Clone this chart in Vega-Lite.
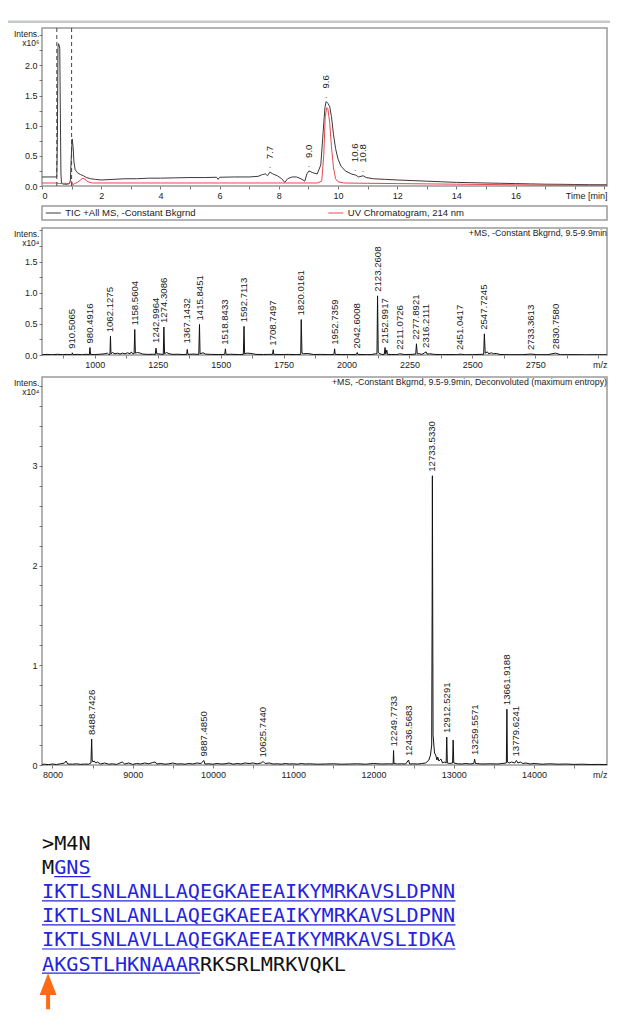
{
  "$schema": "https://vega.github.io/schema/vega-lite/v6.json",
  "usermeta": {"embedOptions": {"actions": false}},
  "padding": {"left": 5, "top": 19, "right": 7, "bottom": 0},
  "background": "white",
  "config": {
    "view": {"stroke": null},
    "font": "Liberation Sans",
    "axis": {
      "labelFont": "Liberation Sans", "labelFontSize": 9, "labelColor": "#222", "labelOverlap": false, "labelBound": false,
      "tickColor": "#777", "tickSize": 3, "domain": false, "grid": false, "labelPadding": 2,
      "titleFont": "Liberation Sans", "titleFontSize": 9, "titleFontWeight": "normal", "titleColor": "#222"
    }
  },
  "datasets": {
    "tic": [
      {"t":0,"v":0.15},{"t":0.2,"v":0.15},{"t":0.4,"v":0.15},{"t":0.5,"v":0.15},{"t":0.52,"v":0.8},{"t":0.54,"v":2.3},{"t":0.56,"v":2.36},{"t":0.58,"v":2.33},{"t":0.6,"v":2.28},{"t":0.62,"v":1.2},{"t":0.64,"v":0.2},{"t":0.66,"v":0.04},{"t":0.75,"v":0.03},{"t":0.85,"v":0.03},{"t":0.93,"v":0.04},{"t":0.96,"v":0.1},{"t":0.99,"v":0.5},{"t":1.02,"v":0.78},{"t":1.05,"v":0.65},{"t":1.08,"v":0.4},{"t":1.12,"v":0.27},{"t":1.2,"v":0.22},{"t":1.3,"v":0.19},{"t":1.4,"v":0.17},{"t":1.5,"v":0.14},{"t":1.65,"v":0.12},{"t":1.8,"v":0.11},{"t":2.0,"v":0.1},{"t":2.4,"v":0.11},{"t":2.8,"v":0.12},{"t":3.2,"v":0.12},{"t":3.6,"v":0.13},{"t":4.0,"v":0.13},{"t":4.5,"v":0.135},{"t":5.0,"v":0.14},{"t":5.5,"v":0.14},{"t":5.9,"v":0.145},{"t":5.95,"v":0.11},{"t":6.0,"v":0.145},{"t":6.5,"v":0.15},{"t":7.0,"v":0.15},{"t":7.3,"v":0.16},{"t":7.45,"v":0.19},{"t":7.55,"v":0.2},{"t":7.62,"v":0.17},{"t":7.7,"v":0.23},{"t":7.8,"v":0.2},{"t":7.95,"v":0.17},{"t":8.1,"v":0.12},{"t":8.2,"v":0.06},{"t":8.3,"v":0.12},{"t":8.45,"v":0.15},{"t":8.6,"v":0.15},{"t":8.75,"v":0.12},{"t":8.88,"v":0.08},{"t":8.95,"v":0.2},{"t":9.02,"v":0.25},{"t":9.15,"v":0.22},{"t":9.3,"v":0.2},{"t":9.42,"v":0.35},{"t":9.5,"v":0.9},{"t":9.56,"v":1.3},{"t":9.6,"v":1.4},{"t":9.66,"v":1.37},{"t":9.72,"v":1.32},{"t":9.78,"v":1.15},{"t":9.85,"v":0.85},{"t":9.92,"v":0.62},{"t":10.0,"v":0.45},{"t":10.1,"v":0.33},{"t":10.25,"v":0.25},{"t":10.45,"v":0.2},{"t":10.6,"v":0.18},{"t":10.7,"v":0.15},{"t":10.85,"v":0.17},{"t":10.95,"v":0.14},{"t":11.2,"v":0.12},{"t":11.6,"v":0.11},{"t":12.0,"v":0.1},{"t":12.5,"v":0.09},{"t":13.0,"v":0.08},{"t":13.5,"v":0.07},{"t":14.0,"v":0.06},{"t":14.5,"v":0.055},{"t":15.0,"v":0.05},{"t":15.5,"v":0.045},{"t":16.0,"v":0.04},{"t":16.5,"v":0.035},{"t":17.0,"v":0.03},{"t":17.5,"v":0.028},{"t":18.0,"v":0.025},{"t":18.5,"v":0.022},{"t":19.09,"v":0.02}
    ],
    "uv": [
      {"t":0,"v":0.05},{"t":0.5,"v":0.05},{"t":0.6,"v":0.04},{"t":0.75,"v":0.045},{"t":0.9,"v":0.04},{"t":0.97,"v":0.07},{"t":1.0,"v":0.08},{"t":1.04,"v":0.02},{"t":1.1,"v":0.04},{"t":1.2,"v":0.06},{"t":1.3,"v":0.1},{"t":1.38,"v":0.13},{"t":1.45,"v":0.11},{"t":1.55,"v":0.07},{"t":1.7,"v":0.05},{"t":2.0,"v":0.05},{"t":4.0,"v":0.05},{"t":6.0,"v":0.05},{"t":8.0,"v":0.05},{"t":9.3,"v":0.05},{"t":9.45,"v":0.08},{"t":9.52,"v":0.5},{"t":9.57,"v":1.15},{"t":9.62,"v":1.3},{"t":9.66,"v":1.28},{"t":9.72,"v":1.05},{"t":9.78,"v":0.65},{"t":9.85,"v":0.3},{"t":9.92,"v":0.12},{"t":10.0,"v":0.07},{"t":10.2,"v":0.05},{"t":11.0,"v":0.045},{"t":12.0,"v":0.04},{"t":13.0,"v":0.035},{"t":14.0,"v":0.03},{"t":15.0,"v":0.025},{"t":16.0,"v":0.02},{"t":17.0,"v":0.015},{"t":18.0,"v":0.012},{"t":19.09,"v":0.01}
    ],
    "chromLabels": [
      {"t":7.7,"v":0.23,"label":"7.7"},{"t":9.02,"v":0.25,"label":"9.0"},{"t":9.6,"v":1.4,"label":"9.6"},{"t":10.58,"v":0.18,"label":"10.6"},{"t":10.85,"v":0.17,"label":"10.8"}
    ],
    "legend": [{"series":"TIC +All MS, -Constant Bkgrnd"},{"series":"UV Chromatogram, 214 nm"}],
    "ms1": [
      {"mz":790,"i":0.005},{"mz":810,"i":0.01},{"mz":830,"i":0.004},{"mz":850,"i":0.012},{"mz":870,"i":0.006},{"mz":890,"i":0.01},{"mz":905,"i":0.005},{"mz":908,"i":0.004},{"mz":910.5,"i":0.035},{"mz":913,"i":0.006},{"mz":930,"i":0.01},{"mz":950,"i":0.005},{"mz":965,"i":0.012},{"mz":978,"i":0.006},{"mz":980.5,"i":0.12},{"mz":983,"i":0.01},{"mz":1000,"i":0.008},{"mz":1020,"i":0.012},{"mz":1040,"i":0.02},{"mz":1050,"i":0.03},{"mz":1055,"i":0.01},{"mz":1060,"i":0.01},{"mz":1062.1,"i":0.3},{"mz":1064,"i":0.02},{"mz":1070,"i":0.04},{"mz":1080,"i":0.02},{"mz":1090,"i":0.03},{"mz":1100,"i":0.015},{"mz":1110,"i":0.03},{"mz":1120,"i":0.02},{"mz":1130,"i":0.035},{"mz":1140,"i":0.02},{"mz":1145,"i":0.05},{"mz":1150,"i":0.02},{"mz":1156,"i":0.02},{"mz":1158.6,"i":0.41},{"mz":1161,"i":0.03},{"mz":1170,"i":0.04},{"mz":1180,"i":0.03},{"mz":1190,"i":0.015},{"mz":1210,"i":0.01},{"mz":1230,"i":0.012},{"mz":1240,"i":0.01},{"mz":1243,"i":0.11},{"mz":1246,"i":0.02},{"mz":1260,"i":0.015},{"mz":1272,"i":0.01},{"mz":1274.3,"i":0.45},{"mz":1277,"i":0.02},{"mz":1285,"i":0.04},{"mz":1295,"i":0.02},{"mz":1310,"i":0.01},{"mz":1330,"i":0.012},{"mz":1350,"i":0.008},{"mz":1365,"i":0.01},{"mz":1367.1,"i":0.09},{"mz":1370,"i":0.01},{"mz":1390,"i":0.015},{"mz":1413,"i":0.01},{"mz":1415.8,"i":0.49},{"mz":1418,"i":0.02},{"mz":1430,"i":0.035},{"mz":1440,"i":0.015},{"mz":1460,"i":0.01},{"mz":1490,"i":0.008},{"mz":1516,"i":0.01},{"mz":1518.8,"i":0.1},{"mz":1521,"i":0.01},{"mz":1540,"i":0.012},{"mz":1570,"i":0.008},{"mz":1590,"i":0.01},{"mz":1592.7,"i":0.46},{"mz":1595,"i":0.02},{"mz":1605,"i":0.03},{"mz":1620,"i":0.025},{"mz":1640,"i":0.01},{"mz":1670,"i":0.008},{"mz":1690,"i":0.01},{"mz":1706,"i":0.01},{"mz":1708.7,"i":0.085},{"mz":1711,"i":0.01},{"mz":1740,"i":0.008},{"mz":1770,"i":0.01},{"mz":1800,"i":0.006},{"mz":1818,"i":0.01},{"mz":1820,"i":0.57},{"mz":1823,"i":0.03},{"mz":1830,"i":0.02},{"mz":1845,"i":0.025},{"mz":1870,"i":0.008},{"mz":1900,"i":0.01},{"mz":1930,"i":0.006},{"mz":1950,"i":0.01},{"mz":1952.7,"i":0.1},{"mz":1955,"i":0.01},{"mz":1980,"i":0.008},{"mz":2010,"i":0.006},{"mz":2040,"i":0.01},{"mz":2042.6,"i":0.04},{"mz":2045,"i":0.01},{"mz":2080,"i":0.006},{"mz":2100,"i":0.008},{"mz":2115,"i":0.02},{"mz":2121,"i":0.02},{"mz":2123.3,"i":0.95},{"mz":2126,"i":0.04},{"mz":2133,"i":0.02},{"mz":2140,"i":0.01},{"mz":2150,"i":0.01},{"mz":2153,"i":0.12},{"mz":2156,"i":0.015},{"mz":2160,"i":0.08},{"mz":2163,"i":0.01},{"mz":2180,"i":0.008},{"mz":2200,"i":0.006},{"mz":2211.1,"i":0.02},{"mz":2230,"i":0.008},{"mz":2260,"i":0.01},{"mz":2275,"i":0.015},{"mz":2277.9,"i":0.18},{"mz":2281,"i":0.02},{"mz":2290,"i":0.02},{"mz":2300,"i":0.01},{"mz":2316.2,"i":0.05},{"mz":2320,"i":0.015},{"mz":2330,"i":0.02},{"mz":2350,"i":0.01},{"mz":2380,"i":0.006},{"mz":2410,"i":0.008},{"mz":2440,"i":0.005},{"mz":2451,"i":0.015},{"mz":2470,"i":0.005},{"mz":2500,"i":0.006},{"mz":2530,"i":0.01},{"mz":2545,"i":0.012},{"mz":2547.7,"i":0.34},{"mz":2551,"i":0.03},{"mz":2560,"i":0.05},{"mz":2565,"i":0.02},{"mz":2575,"i":0.035},{"mz":2585,"i":0.02},{"mz":2595,"i":0.025},{"mz":2610,"i":0.008},{"mz":2650,"i":0.005},{"mz":2700,"i":0.006},{"mz":2733.4,"i":0.015},{"mz":2760,"i":0.005},{"mz":2800,"i":0.006},{"mz":2830.8,"i":0.03},{"mz":2850,"i":0.005},{"mz":2900,"i":0.006},{"mz":2950,"i":0.004},{"mz":3000,"i":0.005},{"mz":3035,"i":0.004}
    ],
    "ms1Labels": [
      {"mz":910.5065,"i":0.035,"label":"910.5065"},{"mz":980.4916,"i":0.12,"label":"980.4916"},{"mz":1062.1275,"i":0.3,"label":"1062.1275"},{"mz":1158.5604,"i":0.41,"label":"1158.5604"},{"mz":1242.9964,"i":0.13,"label":"1242.9964"},{"mz":1274.3086,"i":0.45,"label":"1274.3086"},{"mz":1367.1432,"i":0.12,"label":"1367.1432"},{"mz":1415.8451,"i":0.49,"label":"1415.8451"},{"mz":1518.8433,"i":0.1,"label":"1518.8433"},{"mz":1592.7113,"i":0.46,"label":"1592.7113"},{"mz":1708.7497,"i":0.085,"label":"1708.7497"},{"mz":1820.0161,"i":0.57,"label":"1820.0161"},{"mz":1952.7359,"i":0.1,"label":"1952.7359"},{"mz":2042.6008,"i":0.04,"label":"2042.6008"},{"mz":2123.2608,"i":0.95,"label":"2123.2608"},{"mz":2152.9917,"i":0.12,"label":"2152.9917"},{"mz":2211.0726,"i":0.02,"label":"2211.0726"},{"mz":2277.8921,"i":0.18,"label":"2277.8921"},{"mz":2316.2111,"i":0.05,"label":"2316.2111"},{"mz":2451.0417,"i":0.015,"label":"2451.0417"},{"mz":2547.7245,"i":0.34,"label":"2547.7245"},{"mz":2733.3613,"i":0.015,"label":"2733.3613"},{"mz":2830.758,"i":0.03,"label":"2830.7580"}
    ],
    "ms2": [
      {"mz":7870,"i":0.005},{"mz":7900,"i":0.008},{"mz":7950,"i":0.004},{"mz":8000,"i":0.01},{"mz":8050,"i":0.005},{"mz":8100,"i":0.012},{"mz":8150,"i":0.02},{"mz":8170,"i":0.04},{"mz":8190,"i":0.01},{"mz":8250,"i":0.008},{"mz":8300,"i":0.012},{"mz":8350,"i":0.006},{"mz":8400,"i":0.01},{"mz":8450,"i":0.008},{"mz":8480,"i":0.02},{"mz":8488.7,"i":0.26},{"mz":8495,"i":0.05},{"mz":8505,"i":0.03},{"mz":8520,"i":0.04},{"mz":8540,"i":0.02},{"mz":8560,"i":0.03},{"mz":8600,"i":0.01},{"mz":8650,"i":0.02},{"mz":8700,"i":0.008},{"mz":8750,"i":0.012},{"mz":8800,"i":0.006},{"mz":8870,"i":0.03},{"mz":8900,"i":0.01},{"mz":8950,"i":0.02},{"mz":9000,"i":0.006},{"mz":9050,"i":0.015},{"mz":9100,"i":0.01},{"mz":9150,"i":0.02},{"mz":9200,"i":0.012},{"mz":9250,"i":0.025},{"mz":9280,"i":0.03},{"mz":9300,"i":0.01},{"mz":9350,"i":0.015},{"mz":9400,"i":0.008},{"mz":9450,"i":0.012},{"mz":9500,"i":0.02},{"mz":9550,"i":0.01},{"mz":9600,"i":0.012},{"mz":9650,"i":0.008},{"mz":9700,"i":0.015},{"mz":9750,"i":0.01},{"mz":9800,"i":0.02},{"mz":9850,"i":0.015},{"mz":9887.5,"i":0.045},{"mz":9900,"i":0.01},{"mz":9950,"i":0.012},{"mz":10000,"i":0.008},{"mz":10050,"i":0.015},{"mz":10100,"i":0.01},{"mz":10150,"i":0.012},{"mz":10200,"i":0.02},{"mz":10250,"i":0.008},{"mz":10300,"i":0.015},{"mz":10350,"i":0.01},{"mz":10400,"i":0.02},{"mz":10450,"i":0.015},{"mz":10500,"i":0.02},{"mz":10550,"i":0.012},{"mz":10600,"i":0.02},{"mz":10625.7,"i":0.035},{"mz":10650,"i":0.015},{"mz":10700,"i":0.02},{"mz":10750,"i":0.01},{"mz":10800,"i":0.012},{"mz":10850,"i":0.008},{"mz":10900,"i":0.015},{"mz":10950,"i":0.01},{"mz":11000,"i":0.012},{"mz":11050,"i":0.008},{"mz":11100,"i":0.015},{"mz":11150,"i":0.01},{"mz":11200,"i":0.012},{"mz":11300,"i":0.008},{"mz":11400,"i":0.01},{"mz":11500,"i":0.012},{"mz":11600,"i":0.008},{"mz":11700,"i":0.01},{"mz":11800,"i":0.012},{"mz":11900,"i":0.008},{"mz":12000,"i":0.015},{"mz":12100,"i":0.01},{"mz":12200,"i":0.012},{"mz":12245,"i":0.01},{"mz":12249.8,"i":0.145},{"mz":12255,"i":0.015},{"mz":12300,"i":0.01},{"mz":12350,"i":0.012},{"mz":12400,"i":0.01},{"mz":12436.6,"i":0.05},{"mz":12450,"i":0.01},{"mz":12500,"i":0.012},{"mz":12550,"i":0.01},{"mz":12600,"i":0.015},{"mz":12650,"i":0.02},{"mz":12690,"i":0.05},{"mz":12710,"i":0.1},{"mz":12725,"i":0.2},{"mz":12730,"i":1.5},{"mz":12733.5,"i":2.9},{"mz":12737,"i":1.8},{"mz":12742,"i":0.3},{"mz":12760,"i":0.12},{"mz":12775,"i":0.1},{"mz":12790,"i":0.05},{"mz":12800,"i":0.08},{"mz":12815,"i":0.04},{"mz":12840,"i":0.06},{"mz":12860,"i":0.02},{"mz":12880,"i":0.03},{"mz":12905,"i":0.02},{"mz":12912.5,"i":0.28},{"mz":12920,"i":0.02},{"mz":12950,"i":0.015},{"mz":12985,"i":0.02},{"mz":12992,"i":0.25},{"mz":13000,"i":0.02},{"mz":13050,"i":0.012},{"mz":13100,"i":0.01},{"mz":13150,"i":0.015},{"mz":13200,"i":0.01},{"mz":13250,"i":0.015},{"mz":13259.6,"i":0.06},{"mz":13270,"i":0.015},{"mz":13350,"i":0.01},{"mz":13450,"i":0.012},{"mz":13550,"i":0.01},{"mz":13600,"i":0.015},{"mz":13655,"i":0.02},{"mz":13661.9,"i":0.56},{"mz":13668,"i":0.03},{"mz":13690,"i":0.02},{"mz":13720,"i":0.03},{"mz":13760,"i":0.02},{"mz":13779.6,"i":0.045},{"mz":13800,"i":0.02},{"mz":13830,"i":0.03},{"mz":13860,"i":0.015},{"mz":13900,"i":0.02},{"mz":13950,"i":0.01},{"mz":14000,"i":0.015},{"mz":14100,"i":0.008},{"mz":14200,"i":0.012},{"mz":14300,"i":0.008},{"mz":14400,"i":0.01},{"mz":14500,"i":0.006},{"mz":14600,"i":0.008},{"mz":14700,"i":0.005},{"mz":14800,"i":0.006},{"mz":14909,"i":0.004}
    ],
    "ms2Labels": [
      {"mz":8488.7426,"i":0.26,"label":"8488.7426"},{"mz":9887.485,"i":0.045,"label":"9887.4850"},{"mz":10625.744,"i":0.035,"label":"10625.7440"},{"mz":12249.7733,"i":0.145,"label":"12249.7733"},{"mz":12436.5683,"i":0.05,"label":"12436.5683"},{"mz":12733.533,"i":2.9,"label":"12733.5330"},{"mz":12912.5291,"i":0.28,"label":"12912.5291"},{"mz":13259.5571,"i":0.06,"label":"13259.5571"},{"mz":13661.9188,"i":0.56,"label":"13661.9188"},{"mz":13779.6241,"i":0.045,"label":"13779.6241"}
    ],
    "seq": [
      {"line":0,"col":0,"text":">M4N","kind":"plain"},
      {"line":1,"col":0,"text":"M","kind":"plain"},
      {"line":1,"col":1,"text":"GNS","kind":"link"},
      {"line":2,"col":0,"text":"IKTLSNLANLLAQEGKAEEAIKYMRKAVSLDPNN","kind":"link"},
      {"line":3,"col":0,"text":"IKTLSNLANLLAQEGKAEEAIKYMRKAVSLDPNN","kind":"link"},
      {"line":4,"col":0,"text":"IKTLSNLAVLLAQEGKAEEAIKYMRKAVSLIDKA","kind":"link"},
      {"line":5,"col":0,"text":"AKGSTLHKNAAAR","kind":"link"},
      {"line":5,"col":13,"text":"RKSRLMRKVQKL","kind":"plain"}
    ],
    "underline": [
      {"line":1,"col":1,"end":4},{"line":2,"col":0,"end":34},{"line":3,"col":0,"end":34},{"line":4,"col":0,"end":34},{"line":5,"col":0,"end":13}
    ],
    "arrow": [{"line":5.75,"col":0.5}]
  },
  "spacing": 8,
  "bounds": "flush",
  "resolve": {"scale": {"color": "independent"}},
  "vconcat": [
    {
      "width": 565, "height": 158,
      "view": {"stroke": "#9a9a9a", "strokeWidth": 1.5},
      "resolve": {"axis": {"x": "independent", "y": "independent"}},
      "layer": [
        {
          "data": {"name": "tic"},
          "mark": {"type": "line", "color": "#3a3a3a", "strokeWidth": 1, "clip": true},
          "encoding": {
            "x": {"field": "t", "type": "quantitative", "scale": {"domain": [0, 19.09], "nice": false, "zero": false},
              "axis": {"orient": "bottom", "values": [0,2,4,6,8,10,12,14,16], "labelOverlap": false, "format": "d",
                "title": "Time [min]", "titleX": 565, "titleY": 5, "titleAlign": "right", "titleBaseline": "top"}},
            "y": {"field": "v", "type": "quantitative", "scale": {"domain": [0, 2.62], "nice": false},
              "axis": {"orient": "left", "values": [0,0.5,1,1.5,2], "labelOverlap": false, "format": ".1f",
                "title": ["Intens.", "x10⁶"], "titleAngle": 0, "titleAlign": "right", "titleBaseline": "top",
                "titleX": -3, "titleY": 1, "titleLineHeight": 9, "titleFontSize": 8.5}}
          }
        },
        {
          "data": {"name": "tic"},
          "mark": {"type": "line", "opacity": 0},
          "encoding": {
            "x": {"field": "t", "type": "quantitative", "axis": {"orient": "bottom", "values": [1,3,5,7,9,11,13,15,17,18,19], "labels": false, "title": null}},
            "y": {"field": "v", "type": "quantitative", "axis": {"orient": "left", "values": [0.25,0.75,1.25,1.75,2.25,2.5], "labels": false, "title": null}}
          }
        },
        {
          "data": {"name": "uv"},
          "mark": {"type": "line", "color": "#e8474f", "strokeWidth": 1, "clip": true},
          "encoding": {"x": {"field": "t", "type": "quantitative", "axis": null}, "y": {"field": "v", "type": "quantitative", "axis": null}}
        },
        {
          "data": {"values": [{"t": 0.5}, {"t": 1.0}]},
          "mark": {"type": "rule", "color": "#444", "strokeWidth": 1, "strokeDash": [4, 3]},
          "encoding": {"x": {"field": "t", "type": "quantitative", "axis": null}}
        },
        {
          "data": {"name": "chromLabels"},
          "mark": {"type": "text", "angle": 270, "align": "left", "baseline": "middle", "dx": 13, "fontSize": 9.6, "color": "#222"},
          "encoding": {"x": {"field": "t", "type": "quantitative", "axis": null}, "y": {"field": "v", "type": "quantitative", "axis": null}, "text": {"field": "label"}}
        },
        {
          "data": {"name": "chromLabels"},
          "mark": {"type": "text", "align": "center", "baseline": "middle", "dy": -5, "fontSize": 9, "color": "#666", "text": "·"},
          "encoding": {"x": {"field": "t", "type": "quantitative", "axis": null}, "y": {"field": "v", "type": "quantitative", "axis": null}}
        },
        {
          "data": {"values": [{}]},
          "mark": {"type": "rule", "color": "#c8c8c8", "strokeWidth": 2.5},
          "encoding": {"x": {"datum": -1.15, "type": "quantitative", "axis": null}, "x2": {"datum": 19.19}, "y": {"datum": 2.725, "type": "quantitative", "axis": null}}
        }
      ]
    },
    {
      "width": 565, "height": 4,
      "data": {"values": [{}]},
      "mark": {"type": "point", "opacity": 0}
    },
    {
      "width": 565, "height": 14,
      "view": {"stroke": "#9a9a9a", "strokeWidth": 1.5},
      "data": {"name": "legend"},
      "layer": [
        {
          "mark": {"type": "point", "shape": "stroke", "size": 225, "strokeWidth": 1, "filled": false, "opacity": 1},
          "encoding": {
            "x": {"field": "series", "type": "nominal", "bandPosition": 0.04, "scale": {"type": "band", "paddingInner": 0, "paddingOuter": 0, "domain": ["TIC +All MS, -Constant Bkgrnd", "UV Chromatogram, 214 nm"]}, "axis": null},
            "color": {"field": "series", "type": "nominal", "scale": {"domain": ["TIC +All MS, -Constant Bkgrnd", "UV Chromatogram, 214 nm"], "range": ["#3a3a3a", "#e8474f"]}, "legend": null}
          }
        },
        {
          "mark": {"type": "text", "align": "left", "baseline": "middle", "dx": 12, "fontSize": 9.5, "color": "#222"},
          "encoding": {
            "x": {"field": "series", "type": "nominal", "bandPosition": 0.04},
            "text": {"field": "series"}
          }
        }
      ]
    },
    {
      "width": 565, "height": 127,
      "view": {"stroke": "#9a9a9a", "strokeWidth": 1.5},
      "resolve": {"axis": {"x": "independent", "y": "independent"}},
      "title": {"text": "+MS, -Constant Bkgrnd, 9.5-9.9min", "anchor": "end", "frame": "group", "offset": -10, "fontSize": 8.8, "fontWeight": "normal", "font": "Liberation Sans", "color": "#222"},
      "layer": [
        {
          "data": {"name": "ms1"},
          "mark": {"type": "line", "color": "#111", "strokeWidth": 1, "clip": true},
          "encoding": {
            "x": {"field": "mz", "type": "quantitative", "scale": {"domain": [790, 3035], "nice": false, "zero": false},
              "axis": {"orient": "bottom", "values": [1000,1250,1500,1750,2000,2250,2500,2750], "labelOverlap": false, "format": "d",
                "title": "m/z", "titleX": 565, "titleY": 5, "titleAlign": "right", "titleBaseline": "top"}},
            "y": {"field": "i", "type": "quantitative", "scale": {"domain": [0, 2.04], "nice": false},
              "axis": {"orient": "left", "values": [0,0.5,1,1.5], "labelOverlap": false, "format": ".1f",
                "title": ["Intens.", "x10⁴"], "titleAngle": 0, "titleAlign": "right", "titleBaseline": "top",
                "titleX": -3, "titleY": 1, "titleLineHeight": 9, "titleFontSize": 8.5}}
          }
        },
        {
          "data": {"name": "ms1"},
          "mark": {"type": "line", "opacity": 0},
          "encoding": {
            "x": {"field": "mz", "type": "quantitative", "axis": {"orient": "bottom", "values": [875,1125,1375,1625,1875,2125,2375,2625,2875,3000], "labels": false, "title": null}},
            "y": {"field": "i", "type": "quantitative", "axis": {"orient": "left", "values": [0.25,0.75,1.25,1.75,2], "labels": false, "title": null}}
          }
        },
        {
          "data": {"name": "ms1Labels"},
          "mark": {"type": "text", "angle": 270, "align": "left", "baseline": "middle", "dx": 4, "fontSize": 9.6, "color": "#222"},
          "encoding": {"x": {"field": "mz", "type": "quantitative", "axis": null}, "y": {"field": "i", "type": "quantitative", "axis": null}, "text": {"field": "label"}}
        }
      ]
    },
    {
      "width": 565, "height": 6,
      "data": {"values": [{}]},
      "mark": {"type": "point", "opacity": 0}
    },
    {
      "width": 565, "height": 388,
      "view": {"stroke": "#9a9a9a", "strokeWidth": 1.5},
      "resolve": {"axis": {"x": "independent", "y": "independent"}},
      "title": {"text": "+MS, -Constant Bkgrnd, 9.5-9.9min, Deconvoluted (maximum entropy)", "anchor": "end", "frame": "group", "offset": -10, "fontSize": 8.8, "fontWeight": "normal", "font": "Liberation Sans", "color": "#222"},
      "layer": [
        {
          "data": {"name": "ms2"},
          "mark": {"type": "line", "color": "#111", "strokeWidth": 1, "clip": true},
          "encoding": {
            "x": {"field": "mz", "type": "quantitative", "scale": {"domain": [7870, 14909], "nice": false, "zero": false},
              "axis": {"orient": "bottom", "values": [8000,9000,10000,11000,12000,13000,14000], "labelOverlap": false, "format": "d",
                "title": "m/z", "titleX": 565, "titleY": 5, "titleAlign": "right", "titleBaseline": "top"}},
            "y": {"field": "i", "type": "quantitative", "scale": {"domain": [0, 3.89], "nice": false},
              "axis": {"orient": "left", "values": [0,1,2,3], "labelOverlap": false, "format": "d",
                "title": ["Intens.", "x10⁴"], "titleAngle": 0, "titleAlign": "right", "titleBaseline": "top",
                "titleX": -3, "titleY": 1, "titleLineHeight": 9, "titleFontSize": 8.5}}
          }
        },
        {
          "data": {"name": "ms2"},
          "mark": {"type": "line", "opacity": 0},
          "encoding": {
            "x": {"field": "mz", "type": "quantitative", "axis": {"orient": "bottom", "values": [8500,9500,10500,11500,12500,13500,14500], "labels": false, "title": null}},
            "y": {"field": "i", "type": "quantitative", "axis": {"orient": "left", "values": [0.2,0.4,0.6,0.8,1.2,1.4,1.6,1.8,2.2,2.4,2.6,2.8,3.2,3.4,3.6,3.8], "labels": false, "title": null}}
          }
        },
        {
          "data": {"name": "ms2Labels"},
          "mark": {"type": "text", "angle": 270, "align": "left", "baseline": "middle", "dx": 4, "fontSize": 9.6, "color": "#222"},
          "encoding": {"x": {"field": "mz", "type": "quantitative", "axis": null}, "y": {"field": "i", "type": "quantitative", "axis": null}, "text": {"field": "label"}}
        }
      ]
    },
    {
      "width": 565, "height": 245,
      "layer": [
        {
          "data": {"name": "seq"},
          "transform": [{"filter": "datum.kind == 'plain'"}],
          "mark": {"type": "text", "align": "left", "baseline": "alphabetic", "font": "DejaVu Sans Mono", "fontSize": 20.2, "dy": -2.5, "color": "#111111"},
          "encoding": {
            "x": {"field": "col", "type": "quantitative", "scale": {"domain": [0, 46.46], "nice": false, "zero": false}, "axis": null},
            "y": {"field": "line", "type": "quantitative", "scale": {"domain": [-3.305, 6.865], "nice": false, "zero": false, "reverse": true}, "axis": null},
            "text": {"field": "text"}
          }
        },
        {
          "data": {"name": "seq"},
          "transform": [{"filter": "datum.kind == 'link'"}],
          "mark": {"type": "text", "align": "left", "baseline": "alphabetic", "font": "DejaVu Sans Mono", "fontSize": 20.2, "dy": -2.5, "color": "#2424dc"},
          "encoding": {
            "x": {"field": "col", "type": "quantitative"},
            "y": {"field": "line", "type": "quantitative"},
            "text": {"field": "text"}
          }
        },
        {
          "data": {"name": "underline"},
          "mark": {"type": "rule", "color": "#2424dc", "strokeWidth": 1.2},
          "encoding": {
            "x": {"field": "col", "type": "quantitative"},
            "x2": {"field": "end"},
            "y": {"field": "line", "type": "quantitative"}
          }
        },
        {
          "data": {"name": "arrow"},
          "mark": {"type": "point", "shape": "M0,-1L0.47,0.22L0.11,0.22L0.11,1L-0.11,1L-0.11,0.22L-0.47,0.22Z", "size": 1296, "filled": true, "color": "#ff6a13", "opacity": 1, "strokeWidth": 0},
          "encoding": {
            "x": {"field": "col", "type": "quantitative"},
            "y": {"field": "line", "type": "quantitative"}
          }
        }
      ]
    }
  ]
}
